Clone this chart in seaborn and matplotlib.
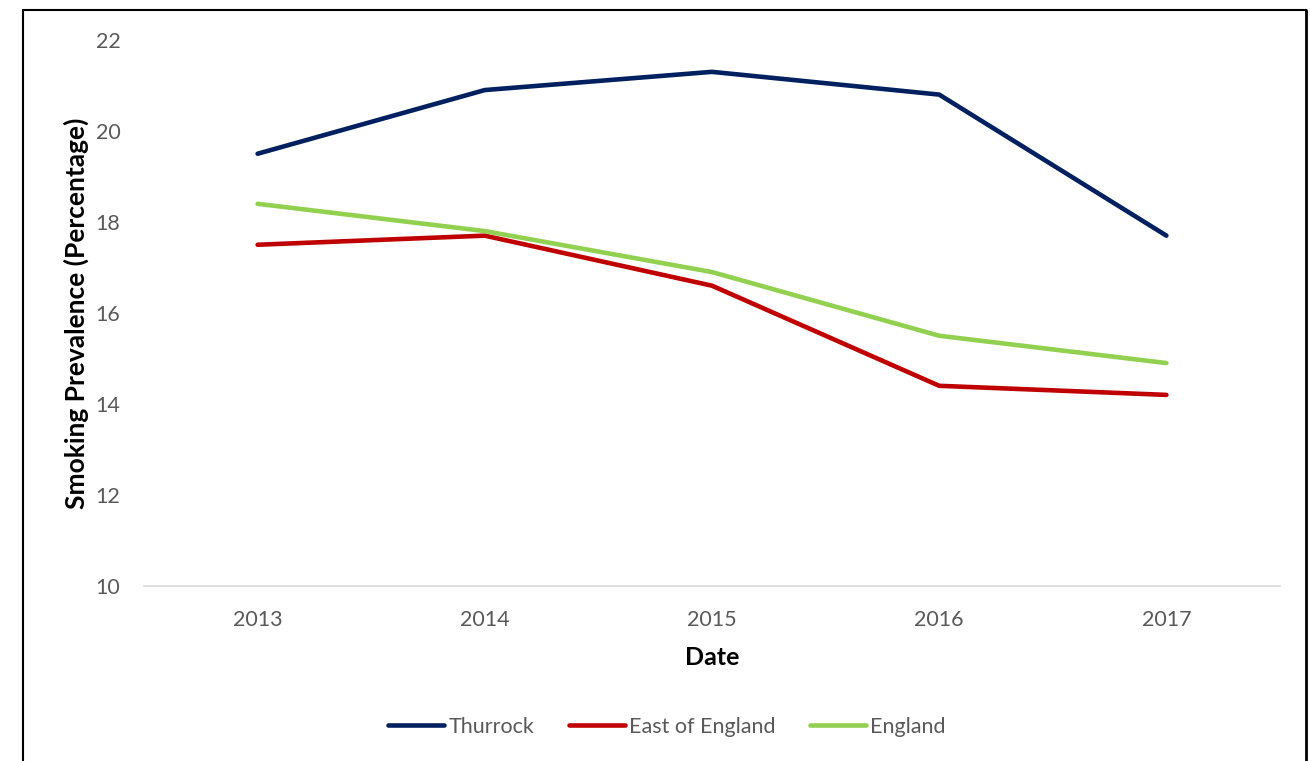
import matplotlib
matplotlib.use("Agg")
import matplotlib.pyplot as plt
import seaborn as sns
import pandas as pd
from matplotlib.lines import Line2D

years = ["2013", "2014", "2015", "2016", "2017"]
thurrock = [19.5, 20.9, 21.3, 20.8, 17.7]
east_of_england = [17.5, 17.7, 16.6, 14.4, 14.2]
england = [18.4, 17.8, 16.9, 15.5, 14.9]
series_names = ["Thurrock", "East of England", "England"]
colors = ["#002060", "#C00000", "#92D050"]
y_ticks = [10, 12, 14, 16, 18, 20, 22]

sns.set_theme(style="white")
plt.rcParams['font.family'] = ['Lato', 'DejaVu Sans']

df = pd.DataFrame({
    "Date": years * 3,
    "Value": thurrock + east_of_england + england,
    "Series": [series_names[0]] * 5 + [series_names[1]] * 5 + [series_names[2]] * 5,
})

W, H = 1310, 761
fig = plt.figure(figsize=(W / 100, H / 100), dpi=100)
ax = fig.add_axes([144 / W, 1 - 586 / H, (1280 - 144) / W, (586 - 40) / H])

sns.lineplot(data=df, x="Date", y="Value", hue="Series", palette=colors,
             hue_order=series_names, linewidth=3.3, ax=ax, legend=False, sort=False)

ax.set_xlim(-0.5, 4.5)
ax.set_ylim(10, 22)
ax.set_yticks(y_ticks)
ax.set_yticklabels([str(v) for v in y_ticks])
for s in ["top", "right", "left"]:
    ax.spines[s].set_visible(False)
ax.spines["bottom"].set_color("#D9D9D9")
ax.spines["bottom"].set_linewidth(1.2)
ax.tick_params(axis="both", length=0, labelsize=15.5, colors="#595959")
ax.tick_params(axis="y", pad=17)
ax.tick_params(axis="x", pad=17)
ax.set_xlabel("Date", fontsize=18, fontweight="bold", color="black", labelpad=12)
ax.set_ylabel("Smoking Prevalence (Percentage)", fontsize=19, fontweight="bold",
              color="black", labelpad=5)

handles = [Line2D([0], [0], color=c, lw=3.3, solid_capstyle="round") for c in colors]
fig.legend(handles, series_names, loc="center", bbox_to_anchor=(667 / W, 1 - 727 / H),
           ncol=3, frameon=False, fontsize=15.5, handlelength=2.6, handletextpad=0.2,
           columnspacing=1.6, labelcolor="#595959")

# outer frame (left, top, right)
x0, x1 = 23 / W, 1306 / W
yt = 1 - 10 / H
fig.add_artist(Line2D([x0, x0], [0, yt], color="black", lw=1.5, transform=fig.transFigure))
fig.add_artist(Line2D([x0, x1], [yt, yt], color="black", lw=1.5, transform=fig.transFigure))
fig.add_artist(Line2D([x1, x1], [0, yt], color="black", lw=2.0, transform=fig.transFigure))

fig.savefig("out.png", dpi=100)
